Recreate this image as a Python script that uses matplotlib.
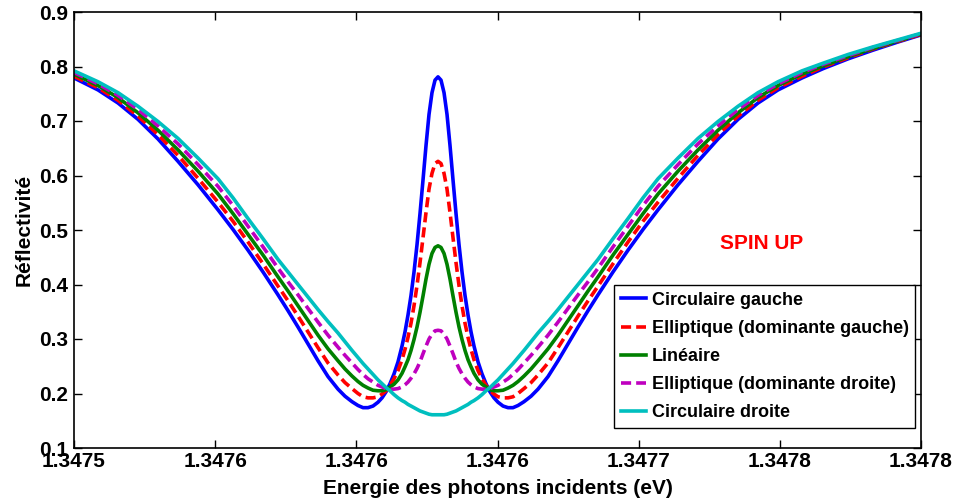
import numpy as np
import matplotlib
matplotlib.use('Agg')
import matplotlib.pyplot as plt

plt.rcParams['font.family'] = ['Liberation Sans', 'DejaVu Sans']
plt.rcParams['font.weight'] = 'bold'

# énergie des photons (eV)
energie = [1.34750000, 1.34750851, 1.34751559, 1.34752267, 1.34752976, 1.34753684, 1.34754392,
           1.34755101, 1.34755632, 1.34756163, 1.34756695, 1.34757226, 1.34757580, 1.34757934,
           1.34758289, 1.34758643, 1.34758997, 1.34759351, 1.34759599, 1.34759847, 1.34760059,
           1.34760237, 1.34760414, 1.34760591, 1.34760768, 1.34760910, 1.34761051, 1.34761193,
           1.34761335, 1.34761476, 1.34761618, 1.34761724, 1.34761830, 1.34761937, 1.34762043,
           1.34762149, 1.34762255, 1.34762362, 1.34762468, 1.34762574, 1.34762680, 1.34762787,
           1.34762893,
           1.34762999, 1.34763106, 1.34763212, 1.34763318, 1.34763424, 1.34763531, 1.34763637,
           1.34763743, 1.34763849, 1.34763956, 1.34764062, 1.34764168, 1.34764310, 1.34764451,
           1.34764593, 1.34764735, 1.34764876, 1.34765018, 1.34765195, 1.34765372, 1.34765549,
           1.34765727, 1.34765939, 1.34766187, 1.34766435, 1.34766789, 1.34767143, 1.34767497,
           1.34767852, 1.34768206, 1.34768560, 1.34769091, 1.34769623, 1.34770154, 1.34770685,
           1.34771394, 1.34772102, 1.34772810, 1.34773519, 1.34774227, 1.34774935, 1.34775786,
           1.34776529, 1.34777415, 1.34778300, 1.34779186, 1.34780000]

circ_gauche = [0.779, 0.757, 0.733, 0.703, 0.667, 0.626, 0.583, 0.537, 0.501, 0.463, 0.423,
               0.381, 0.352, 0.322, 0.291, 0.260, 0.231, 0.208, 0.195, 0.185, 0.178, 0.174,
               0.174, 0.177, 0.184, 0.192, 0.203, 0.218, 0.236, 0.258, 0.287, 0.313, 0.344,
               0.380, 0.423, 0.473, 0.530, 0.592, 0.655, 0.712, 0.752, 0.775,
               0.781,
               0.775, 0.752, 0.712, 0.655, 0.592, 0.530, 0.473, 0.423, 0.380, 0.344, 0.313,
               0.287, 0.258, 0.236, 0.218, 0.203, 0.192, 0.184, 0.177, 0.174, 0.174, 0.178,
               0.185, 0.195, 0.208, 0.231, 0.260, 0.291, 0.322, 0.352, 0.381, 0.423, 0.463,
               0.501, 0.537, 0.583, 0.626, 0.667, 0.703, 0.733, 0.757, 0.779, 0.796, 0.814,
               0.830, 0.845, 0.858]

ell_gauche = [0.782, 0.761, 0.738, 0.709, 0.675, 0.637, 0.595, 0.551, 0.516, 0.478, 0.438,
              0.397, 0.370, 0.342, 0.313, 0.284, 0.256, 0.234, 0.220, 0.209, 0.200, 0.194,
              0.192, 0.192, 0.194, 0.199, 0.205, 0.215, 0.227, 0.242, 0.262, 0.281, 0.303,
              0.329, 0.361, 0.398, 0.440, 0.486, 0.532, 0.575, 0.604, 0.622,
              0.626,
              0.622, 0.604, 0.575, 0.532, 0.486, 0.440, 0.398, 0.361, 0.329, 0.303, 0.281,
              0.262, 0.242, 0.227, 0.215, 0.205, 0.199, 0.194, 0.192, 0.192, 0.194, 0.200,
              0.209, 0.220, 0.234, 0.256, 0.284, 0.313, 0.342, 0.370, 0.397, 0.438, 0.478,
              0.516, 0.551, 0.595, 0.637, 0.675, 0.709, 0.738, 0.761, 0.782, 0.799, 0.816,
              0.832, 0.846, 0.859]

lineaire = [0.786, 0.765, 0.743, 0.715, 0.683, 0.647, 0.608, 0.566, 0.530, 0.492, 0.454,
            0.414, 0.388, 0.361, 0.334, 0.307, 0.282, 0.260, 0.245, 0.232, 0.222, 0.215,
            0.210, 0.206, 0.205, 0.205, 0.207, 0.212, 0.217, 0.225, 0.237, 0.249, 0.262,
            0.279, 0.299, 0.322, 0.349, 0.379, 0.410, 0.437, 0.457, 0.468,
            0.471,
            0.468, 0.457, 0.437, 0.410, 0.379, 0.349, 0.322, 0.299, 0.279, 0.262, 0.249,
            0.237, 0.225, 0.217, 0.212, 0.207, 0.205, 0.205, 0.206, 0.210, 0.215, 0.222,
            0.232, 0.245, 0.260, 0.282, 0.307, 0.334, 0.361, 0.388, 0.414, 0.454, 0.492,
            0.530, 0.566, 0.608, 0.647, 0.683, 0.715, 0.743, 0.765, 0.786, 0.801, 0.818,
            0.833, 0.847, 0.860]

ell_droite = [0.789, 0.768, 0.747, 0.721, 0.691, 0.658, 0.620, 0.580, 0.545, 0.507, 0.469,
              0.430, 0.405, 0.381, 0.356, 0.331, 0.307, 0.285, 0.270, 0.256, 0.244, 0.235,
              0.227, 0.221, 0.215, 0.212, 0.209, 0.208, 0.208, 0.209, 0.212, 0.216, 0.221,
              0.228, 0.236, 0.246, 0.258, 0.273, 0.287, 0.300, 0.309, 0.315,
              0.316,
              0.315, 0.309, 0.300, 0.287, 0.273, 0.258, 0.246, 0.236, 0.228, 0.221, 0.216,
              0.212, 0.209, 0.208, 0.208, 0.209, 0.212, 0.215, 0.221, 0.227, 0.235, 0.244,
              0.256, 0.270, 0.285, 0.307, 0.331, 0.356, 0.381, 0.405, 0.430, 0.469, 0.507,
              0.545, 0.580, 0.620, 0.658, 0.691, 0.721, 0.747, 0.768, 0.789, 0.804, 0.820,
              0.835, 0.848, 0.860]

circ_droite = [0.792, 0.772, 0.752, 0.727, 0.699, 0.668, 0.632, 0.594, 0.559, 0.521, 0.484,
               0.446, 0.423, 0.400, 0.377, 0.354, 0.332, 0.311, 0.295, 0.279, 0.266, 0.255,
               0.245, 0.235, 0.225, 0.218, 0.211, 0.205, 0.198, 0.192, 0.187, 0.184, 0.180,
               0.177, 0.174, 0.171, 0.168, 0.166, 0.164, 0.162, 0.161, 0.161,
               0.161,
               0.161, 0.161, 0.162, 0.164, 0.166, 0.168, 0.171, 0.174, 0.177, 0.180, 0.184,
               0.187, 0.192, 0.198, 0.205, 0.211, 0.218, 0.225, 0.235, 0.245, 0.255, 0.266,
               0.279, 0.295, 0.311, 0.332, 0.354, 0.377, 0.400, 0.423, 0.446, 0.484, 0.521,
               0.559, 0.594, 0.632, 0.668, 0.699, 0.727, 0.752, 0.772, 0.792, 0.806, 0.822,
               0.836, 0.849, 0.861]

xticks = [1.34750, 1.34755, 1.34760, 1.34765, 1.34770, 1.34775, 1.34780]
xtick_labels = ['1.3475', '1.3476', '1.3476', '1.3476', '1.3477', '1.3478', '1.3478']
yticks = [0.1, 0.2, 0.3, 0.4, 0.5, 0.6, 0.7, 0.8, 0.9]

fig = plt.figure(figsize=(9.59, 5.04), dpi=100)
ax = fig.add_axes([74 / 959, 1 - 448 / 504, 847 / 959, 436 / 504])

lw = 2.6
ax.plot(energie, circ_gauche, color=(0, 0, 1), lw=lw, label='Circulaire gauche')
ax.plot(energie, ell_gauche, color=(1, 0, 0), lw=lw, dashes=(2.8, 1.4), label='Elliptique (dominante gauche)')
ax.plot(energie, lineaire, color=(0, 0.5, 0), lw=lw, label='Linéaire')
ax.plot(energie, ell_droite, color=(0.75, 0, 0.75), lw=lw, dashes=(2.8, 1.4), label='Elliptique (dominante droite)')
ax.plot(energie, circ_droite, color=(0, 0.75, 0.75), lw=lw, label='Circulaire droite')

ax.set_xlim(1.34750, 1.34780)
ax.set_ylim(0.1, 0.9)
ax.set_xticks(xticks)
ax.set_xticklabels(xtick_labels)
ax.set_yticks(yticks)
ax.set_yticklabels(['%.1f' % v for v in yticks])
ax.tick_params(direction='in', length=6, width=1, top=True, right=True, labelsize=15)
ax.tick_params(axis='x', pad=3)
ax.tick_params(axis='y', pad=4)
for s in ax.spines.values():
    s.set_linewidth(1.2)

ax.set_xlabel('Energie des photons incidents (eV)', fontsize=15, fontweight='bold', labelpad=6)
ax.set_ylabel('Réflectivité', fontsize=15, fontweight='bold', labelpad=4)

ax.text(1.3477437, 0.476, 'SPIN UP', color='red', fontsize=15, fontweight='bold',
        ha='center', va='center')

leg = ax.legend(loc='lower right', bbox_to_anchor=(0.993, 0.046), borderaxespad=0,
                fontsize=13, handlelength=1.4, handletextpad=0.3, labelspacing=0.62,
                borderpad=0.36, fancybox=False, framealpha=1, edgecolor='black')
leg.get_frame().set_linewidth(1.0)

fig.savefig('out.png', dpi=100)
